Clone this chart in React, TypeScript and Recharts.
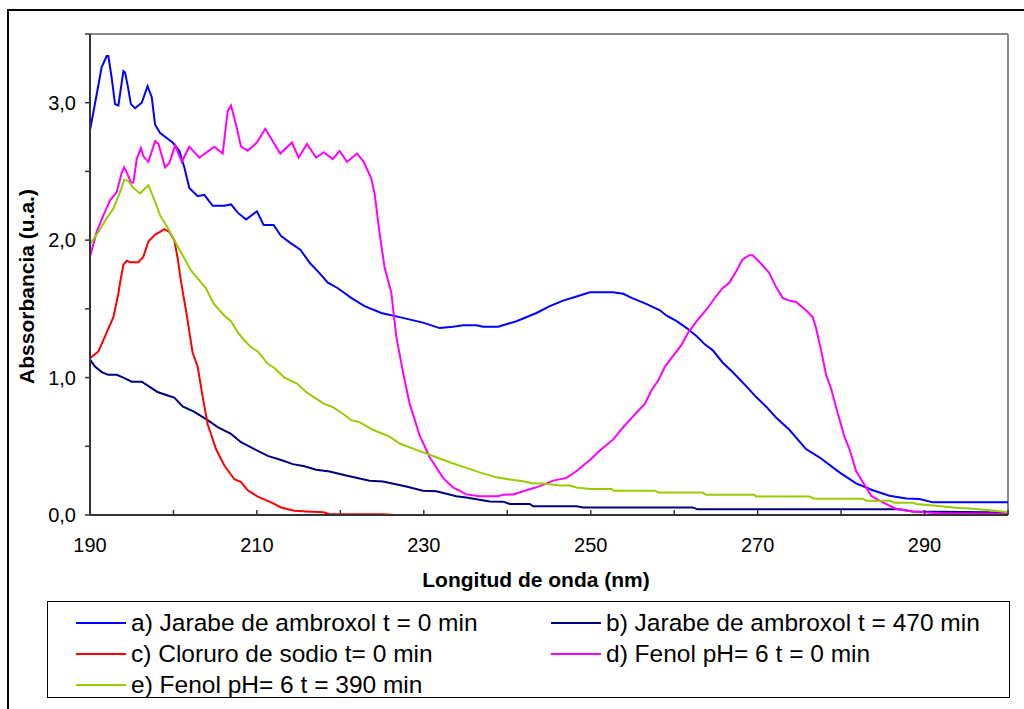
import React from 'react';
import { LineChart, Line, XAxis, YAxis, ReferenceLine } from 'recharts';

// wavelength (nm) / absorbance pairs
const aWl = [190, 190.8, 191.4, 192, 192.2, 192.6, 193, 193.4, 194, 194.2, 194.5, 194.9, 195.4, 196.2, 196.9, 197.4, 197.8, 198.4, 199.9, 200.7, 201.3, 201.9, 202.9, 203.7, 204.7, 206.1, 206.9, 207.7, 208.7, 210, 210.8, 212, 212.9, 214, 215.2, 216.4, 217.5, 218.5, 219.7, 221.3, 222.9, 224.9, 227.1, 229.9, 231.9, 233.5, 234.7, 236.3, 237.1, 238.9, 241.1, 243.5, 245.1, 246.7, 248.3, 249.9, 252.7, 253.9, 254.9, 256.5, 258.3, 259.1, 260.3, 261.5, 262.7, 263.7, 264.6, 265.8, 267, 268.6, 269.8, 271, 272.2, 273.8, 275.8, 277.4, 279.8, 281.8, 283.8, 285.8, 287.8, 289.4, 291, 300];
const aAbs = [2.80, 3.06, 3.26, 3.34, 3.34, 3.18, 2.99, 2.98, 3.23, 3.22, 3.13, 2.99, 2.96, 3.00, 3.12, 3.04, 2.84, 2.78, 2.71, 2.65, 2.53, 2.38, 2.32, 2.33, 2.25, 2.25, 2.26, 2.20, 2.15, 2.21, 2.11, 2.11, 2.03, 1.98, 1.93, 1.83, 1.76, 1.69, 1.65, 1.58, 1.52, 1.47, 1.44, 1.40, 1.36, 1.37, 1.38, 1.38, 1.37, 1.37, 1.41, 1.47, 1.52, 1.56, 1.59, 1.62, 1.62, 1.61, 1.58, 1.54, 1.49, 1.45, 1.41, 1.36, 1.30, 1.24, 1.20, 1.11, 1.04, 0.94, 0.86, 0.79, 0.71, 0.62, 0.48, 0.42, 0.31, 0.23, 0.18, 0.14, 0.12, 0.117, 0.092, 0.092];

const bWl = [190, 190.6, 191.4, 192.2, 193.2, 194, 195, 196.2, 197.2, 198.1, 199.3, 200.1, 201.1, 202.5, 204.1, 205.3, 206.9, 208.1, 209.7, 211.3, 212.9, 214.3, 215.7, 217.1, 218.7, 220.7, 223.5, 225.1, 227.9, 229.9, 231.5, 233.9, 235.1, 237.9, 239.5, 240.3, 242.7, 243.1, 248.3, 249.1, 262.2, 262.8, 287, 288.6, 297.4, 300];
const bAbs = [1.13, 1.08, 1.04, 1.02, 1.02, 1.00, 0.97, 0.97, 0.93, 0.895, 0.87, 0.854, 0.79, 0.75, 0.69, 0.64, 0.59, 0.53, 0.48, 0.43, 0.40, 0.37, 0.355, 0.33, 0.316, 0.287, 0.25, 0.243, 0.207, 0.177, 0.172, 0.136, 0.128, 0.099, 0.097, 0.08, 0.08, 0.063, 0.063, 0.055, 0.055, 0.041, 0.041, 0.026, 0.02, 0.015];

const cWl = [190, 191, 191.8, 192.8, 193.4, 193.6, 194, 194.4, 194.8, 195.8, 196.4, 197, 197.8, 198.4, 198.9, 199.5, 200.1, 200.5, 200.9, 201.5, 202.3, 202.9, 203.5, 204.1, 205.1, 206.1, 207.3, 208.1, 208.9, 210.1, 211.7, 212.9, 214.5, 216, 218, 218.6, 225, 226.5, 300];
const cAbs = [1.14, 1.19, 1.30, 1.44, 1.61, 1.69, 1.82, 1.85, 1.84, 1.84, 1.88, 1.99, 2.04, 2.06, 2.08, 2.06, 2.00, 1.87, 1.70, 1.49, 1.18, 1.08, 0.86, 0.66, 0.48, 0.36, 0.26, 0.24, 0.18, 0.134, 0.092, 0.055, 0.031, 0.026, 0.02, 0.008, 0.005, 0, 0];

const dWl = [190, 190.8, 191.6, 192.4, 193.2, 193.8, 194.1, 194.5, 194.9, 195.2, 195.6, 196.1, 196.4, 197, 197.8, 198.2, 199, 199.5, 200.2, 201, 201.9, 203.1, 204.9, 205.9, 206.5, 206.9, 207.5, 208.1, 208.9, 210, 211, 212, 212.8, 214.2, 215, 216, 217.1, 218, 219.1, 219.9, 220.8, 222, 222.8, 223.7, 224.1, 224.7, 225.3, 226.1, 226.7, 227.5, 228.3, 229.5, 230.7, 232.3, 233.5, 235.1, 236.7, 238.9, 239.5, 240.7, 242.3, 243.9, 245.5, 247.1, 248.3, 249.9, 251.1, 252.7, 253.9, 255.1, 256.5, 257.3, 258.1, 258.9, 259.9, 260.9, 261.7, 262.7, 263.8, 265, 265.8, 266.6, 267.4, 268.2, 269, 269.4, 270.4, 271.4, 272.2, 273, 273.8, 274.6, 275.8, 276.6, 277, 277.6, 278.2, 278.8, 279.6, 280.4, 281, 281.8, 282.6, 283.6, 285, 286.6, 288.6, 291.8, 300];
const dAbs = [1.88, 2.06, 2.18, 2.29, 2.35, 2.49, 2.53, 2.48, 2.42, 2.42, 2.59, 2.67, 2.61, 2.57, 2.72, 2.70, 2.53, 2.56, 2.69, 2.57, 2.68, 2.60, 2.68, 2.63, 2.94, 2.98, 2.84, 2.68, 2.65, 2.71, 2.81, 2.71, 2.63, 2.71, 2.60, 2.70, 2.60, 2.64, 2.59, 2.65, 2.57, 2.63, 2.57, 2.45, 2.34, 2.05, 1.80, 1.62, 1.30, 1.04, 0.81, 0.58, 0.42, 0.27, 0.20, 0.15, 0.136, 0.136, 0.148, 0.15, 0.18, 0.21, 0.25, 0.27, 0.32, 0.40, 0.47, 0.55, 0.64, 0.72, 0.81, 0.91, 0.98, 1.08, 1.16, 1.24, 1.33, 1.41, 1.49, 1.59, 1.65, 1.69, 1.77, 1.86, 1.89, 1.89, 1.83, 1.76, 1.66, 1.58, 1.56, 1.55, 1.49, 1.44, 1.36, 1.20, 1.02, 0.92, 0.74, 0.57, 0.48, 0.32, 0.24, 0.14, 0.092, 0.044, 0.026, 0.012, 0.01];

const eWl = [190, 190.8, 191.8, 192.8, 193.6, 194.1, 194.6, 195.2, 196, 196.5, 197, 197.6, 198.4, 199.3, 200.1, 201.1, 202.1, 203.2, 203.9, 204.8, 206.1, 206.9, 207.7, 208.5, 209.3, 210.1, 211.3, 212.1, 213.3, 214.8, 216, 218, 219.1, 220.3, 221.3, 222.3, 223.9, 225.9, 227.1, 229.1, 231.5, 233.1, 235.1, 236.7, 238.7, 240.3, 241.9, 243.1, 244.3, 246.3, 247.5, 248.3, 249.9, 252.5, 252.8, 257.7, 258.1, 263.4, 263.8, 269.6, 269.8, 276.2, 276.8, 282.6, 283, 285.8, 286.4, 288.6, 289, 291.4, 293.8, 295.8, 297.8, 300];
const eAbs = [1.97, 2.04, 2.14, 2.23, 2.35, 2.44, 2.43, 2.38, 2.34, 2.37, 2.40, 2.31, 2.18, 2.09, 2.00, 1.89, 1.78, 1.70, 1.65, 1.54, 1.45, 1.41, 1.33, 1.27, 1.22, 1.19, 1.10, 1.07, 1.00, 0.956, 0.89, 0.81, 0.785, 0.737, 0.69, 0.676, 0.62, 0.57, 0.52, 0.474, 0.42, 0.384, 0.343, 0.31, 0.274, 0.258, 0.245, 0.23, 0.23, 0.214, 0.214, 0.20, 0.19, 0.19, 0.177, 0.177, 0.163, 0.163, 0.148, 0.148, 0.134, 0.134, 0.119, 0.119, 0.104, 0.104, 0.09, 0.09, 0.08, 0.068, 0.052, 0.045, 0.034, 0.02];

const seriesNames = [
  'a) Jarabe de ambroxol t = 0 min',
  'b) Jarabe de ambroxol t = 470 min',
  'c) Cloruro de sodio t= 0 min',
  'd) Fenol pH= 6 t = 0 min',
  'e) Fenol pH= 6 t = 390 min',
];
const seriesColors = ['#0000FF', '#000080', '#FF0000', '#FF00FF', '#99CC00'];

const xTicks = [190, 200, 210, 220, 230, 240, 250, 260, 270, 280, 290, 300];
const xLabelTicks = [190, 210, 230, 250, 270, 290];
const yTicks = [0, 0.5, 1, 1.5, 2, 2.5, 3, 3.5];
const yLabelTicks = [0, 1, 2, 3];

const toPoints = (wl: number[], abs: number[]) => wl.map((x, i) => ({ x, y: abs[i] }));
const seriesData = [
  toPoints(aWl, aAbs),
  toPoints(bWl, bAbs),
  toPoints(cWl, cAbs),
  toPoints(dWl, dAbs),
  toPoints(eWl, eAbs),
];

const FONT = '"Liberation Sans", Arial, Helvetica, sans-serif';

const XTick = (props: any) => {
  const { x, y, payload } = props;
  return (
    <g>
      <line x1={x} y1={y} x2={x} y2={y - 5} stroke="#333" strokeWidth={1.5} />
      {xLabelTicks.includes(payload.value) && (
        <text x={x} y={y + 37} textAnchor="middle" fontSize={20} fill="#000">{payload.value}</text>
      )}
    </g>
  );
};

const YTick = (props: any) => {
  const { x, y, payload } = props;
  return (
    <g>
      <line x1={x - 5} y1={y} x2={x} y2={y} stroke="#333" strokeWidth={1.5} />
      {yLabelTicks.includes(payload.value) && (
        <text x={x - 14} y={y + 7} textAnchor="end" fontSize={20} fill="#000">
          {payload.value.toFixed(1).replace('.', ',')}
        </text>
      )}
    </g>
  );
};

const YTitle = (props: any) => {
  const { viewBox } = props;
  const cx = viewBox.x + 24;
  const cy = viewBox.y + viewBox.height / 2 + 12;
  return (
    <text x={cx} y={cy} transform={`rotate(-90 ${cx} ${cy})`} textAnchor="middle" fontSize={21} fontWeight="bold" fill="#000">
      Abssorbancia (u.a.)
    </text>
  );
};

const XTitle = (props: any) => {
  const { viewBox } = props;
  const cx = viewBox.x + viewBox.width / 2 - 13;
  const cy = viewBox.y + 72;
  return (
    <text x={cx} y={cy} textAnchor="middle" fontSize={21} fontWeight="bold" fill="#000">
      Longitud de onda (nm)
    </text>
  );
};

export default function App() {
  return (
    <div style={{ position: 'absolute', left: 0, top: 0, width: 1024, height: 709, overflow: 'hidden', background: '#fff', fontFamily: FONT }}>
      {/* outer chart frame */}
      <div style={{ position: 'absolute', left: 7, top: 9, width: 1040, height: 730, border: '2px solid #000' }} />

      <div style={{ position: 'absolute', left: 0, top: 0 }}>
        <LineChart width={1024} height={600} margin={{ top: 34, right: 16, bottom: 0, left: 10 }}>
          <XAxis
            dataKey="x"
            type="number"
            domain={[190, 300]}
            ticks={xTicks}
            interval={0}
            allowDataOverflow
            height={85}
            tickSize={0}
            tickMargin={0}
            tickLine={false}
            tick={<XTick />}
            axisLine={{ stroke: '#333', strokeWidth: 2 }}
            label={<XTitle />}
          />
          <YAxis
            type="number"
            domain={[0, 3.5]}
            ticks={yTicks}
            interval={0}
            allowDataOverflow
            width={80}
            tickSize={0}
            tickMargin={0}
            tickLine={false}
            tick={<YTick />}
            axisLine={{ stroke: '#333', strokeWidth: 2 }}
            label={<YTitle />}
          />
          <ReferenceLine y={3.5} stroke="#888" strokeWidth={2} />
          <ReferenceLine x={300} stroke="#888" strokeWidth={2} />
          {seriesData.map((d, i) => (
            <Line
              key={seriesNames[i]}
              data={d}
              dataKey="y"
              name={seriesNames[i]}
              type="linear"
              stroke={seriesColors[i]}
              strokeWidth={2}
              dot={false}
              activeDot={false}
              isAnimationActive={false}
            />
          ))}
        </LineChart>
      </div>

      {/* legend */}
      <div
        style={{
          position: 'absolute', left: 47, top: 601, width: 963, height: 97,
          border: '1.5px solid #000', boxSizing: 'border-box',
          display: 'grid', gridTemplateColumns: '488px 1fr', gridAutoRows: 31,
          paddingTop: 5, fontSize: 24.5, color: '#000',
        }}
      >
        {seriesNames.map((name, i) => (
          <div key={name} style={{ display: 'flex', alignItems: 'center', whiteSpace: 'nowrap' }}>
            <span style={{ display: 'inline-block', width: 50, height: 2, background: seriesColors[i], marginLeft: i % 2 === 0 ? 28 : 15, marginRight: 5 }} />
            <span>{name}</span>
          </div>
        ))}
      </div>
    </div>
  );
}
